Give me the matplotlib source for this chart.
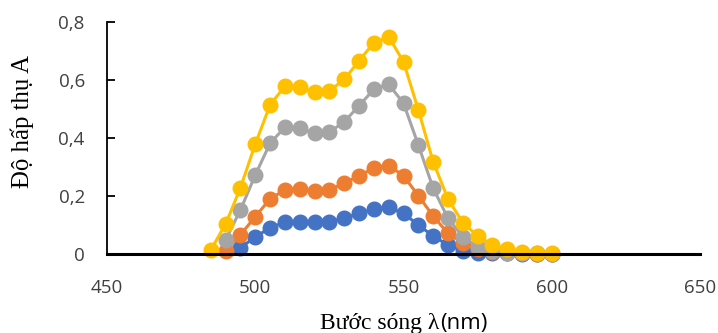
import matplotlib
matplotlib.use("Agg")
import matplotlib.pyplot as plt

x_blue = [495, 500, 505, 510, 515, 520, 525, 530, 535, 540, 545, 550, 555, 560, 565, 570, 575, 580, 585, 590, 595, 600]
y_blue = [0.02, 0.06, 0.089, 0.111, 0.111, 0.109, 0.111, 0.123, 0.14, 0.155, 0.161, 0.14, 0.10, 0.062, 0.031, 0.011, 0.005, 0.003, 0.002, 0.001, 0.001, 0.001]

x_orange = [490, 495, 500, 505, 510, 515, 520, 525, 530, 535, 540, 545, 550, 555, 560, 565, 570, 575, 580, 585, 590, 595, 600]
y_orange = [0.011, 0.066, 0.129, 0.19, 0.221, 0.223, 0.218, 0.221, 0.244, 0.27, 0.296, 0.305, 0.27, 0.201, 0.131, 0.071, 0.037, 0.018, 0.007, 0.003, 0.002, 0.001, 0.001]

x_gray = [490, 495, 500, 505, 510, 515, 520, 525, 530, 535, 540, 545, 550, 555, 560, 565, 570, 575, 580, 585, 590, 595, 600]
y_gray = [0.048, 0.152, 0.272, 0.382, 0.437, 0.433, 0.416, 0.42, 0.456, 0.511, 0.568, 0.585, 0.52, 0.376, 0.227, 0.123, 0.06, 0.025, 0.012, 0.005, 0.003, 0.002, 0.001]

x_yellow = [485, 490, 495, 500, 505, 510, 515, 520, 525, 530, 535, 540, 545, 550, 555, 560, 565, 570, 575, 580, 585, 590, 595, 600]
y_yellow = [0.014, 0.103, 0.228, 0.379, 0.514, 0.579, 0.575, 0.558, 0.562, 0.602, 0.666, 0.729, 0.749, 0.663, 0.497, 0.318, 0.19, 0.108, 0.062, 0.031, 0.016, 0.008, 0.003, 0.002]

x_ticks = [450, 500, 550, 600, 650]
y_ticks = [0, 0.2, 0.4, 0.6, 0.8]
y_tick_labels = ["0", "0,2", "0,4", "0,6", "0,8"]
xlabel_serif = "Bước sóng λ"
xlabel_sans = "(nm)"
ylabel = "Độ hấp thụ A"

W, H = 718, 333
fig = plt.figure(figsize=(W / 100, H / 100), dpi=100)
ax = fig.add_axes([107 / W, 1 - 254 / H, (700 - 107) / W, (254 - 22) / H])

series = [
    (x_blue, y_blue, "#4472C4"),
    (x_orange, y_orange, "#ED7D31"),
    (x_gray, y_gray, "#A5A5A5"),
    (x_yellow, y_yellow, "#FFC000"),
]
for xs, ys, c in series:
    ax.plot(xs, ys, color=c, lw=2.2, marker="o", ms=10.5, mec=c, mfc=c, clip_on=False)

ax.set_xlim(450, 650)
ax.set_ylim(0, 0.8)
ax.set_xticks(x_ticks)
ax.set_yticks(y_ticks)
ax.set_yticklabels(y_tick_labels)
for s in ["top", "right"]:
    ax.spines[s].set_visible(False)
ax.spines["left"].set_linewidth(1.3)
ax.spines["bottom"].set_linewidth(2.2)
ax.spines["left"].set_color("black")
ax.spines["bottom"].set_color("black")
ax.tick_params(axis="y", direction="in", length=6, width=1.3, labelsize=13.5, pad=16)
ax.tick_params(axis="x", length=0, labelsize=13.5, pad=18)
for lab in ax.get_xticklabels() + ax.get_yticklabels():
    lab.set_fontfamily("Open Sans")
    lab.set_color("#404040")

fig.text(22 / W, 1 - 121 / H, ylabel, rotation=90, ha="center", va="center",
         fontsize=17.8, family="Liberation Serif")

# x label: serif part + sans part, centred under the axes
fig.canvas.draw()
r = fig.canvas.get_renderer()
t1 = fig.text(0, 0, xlabel_serif, fontsize=17, family="Liberation Serif", va="baseline")
t2 = fig.text(0, 0, xlabel_sans, fontsize=16, family="Open Sans", va="baseline")
w1 = t1.get_window_extent(r).width
w2 = t2.get_window_extent(r).width
total = w1 + w2
cx = 403.5
x0 = cx - total / 2
yb = 1 - 329 / H
t1.set_position((x0 / W, yb))
t2.set_position(((x0 + w1 + 1) / W, yb))

fig.savefig("out.png", dpi=100)
